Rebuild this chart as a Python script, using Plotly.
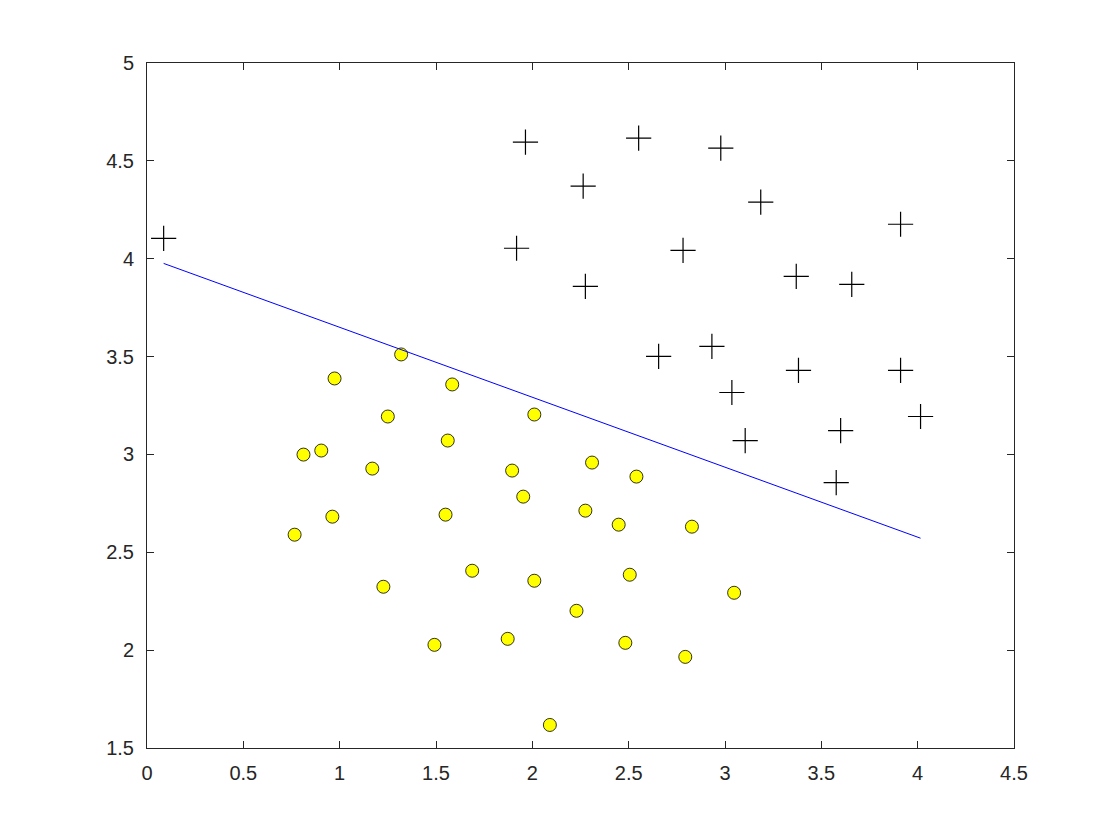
import plotly.graph_objects as go

pos_x = [1.9643, 2.2753, 2.9781, 2.932, 3.5772, 4.015, 3.3814, 3.9113, 2.7822, 2.5518,
         3.3698, 3.1048, 1.9182, 2.2638, 2.6555, 3.1855, 3.6579, 3.9113, 3.6002, 3.0357,
         0.086405]
pos_y = [4.5957, 3.8589, 4.5651, 3.5519, 2.856, 3.1937, 3.4291, 4.1761, 4.0431, 4.6162,
         3.9101, 3.0709, 4.0534, 4.3706, 3.5008, 4.2888, 3.8692, 3.4291, 3.1221, 3.3165,
         4.1035]
neg_x = [1.5841, 2.0103, 1.9527, 2.2753, 2.3099, 2.8283, 3.0473, 2.4827, 2.5057, 1.8721,
         2.0103, 1.2269, 1.8951, 1.561, 1.5495, 1.6878, 1.4919, 0.962, 1.1693, 0.8122,
         0.9735, 1.25, 1.3191, 2.2292, 2.4482, 2.7938, 2.091, 2.5403, 0.9044, 0.76615]
neg_y = [3.3575, 3.2039, 2.7843, 2.7127, 2.9584, 2.6309, 2.2931, 2.0373, 2.3853, 2.0577,
         2.3546, 2.3239, 2.9174, 3.0709, 2.6923, 2.4057, 2.0271, 2.682, 2.9276, 2.9992,
         3.3881, 3.1937, 3.5109, 2.201, 2.6411, 1.9656, 1.6177, 2.8867, 3.0198, 2.5899]
boundary_x = [0.086405, 4.015]
boundary_y = [3.976, 2.572]

x_ticks = [0, 0.5, 1, 1.5, 2, 2.5, 3, 3.5, 4, 4.5]
y_ticks = [1.5, 2, 2.5, 3, 3.5, 4, 4.5, 5]

fig = go.Figure()
fig.add_trace(go.Scatter(x=pos_x, y=pos_y, mode="markers",
                         marker=dict(symbol="cross-thin", size=18, color="black",
                                     line=dict(width=1.2, color="black"))))
fig.add_trace(go.Scatter(x=neg_x, y=neg_y, mode="markers",
                         marker=dict(symbol="circle", size=13, color="#ffff00",
                                     line=dict(width=0.8, color="black"))))
fig.add_trace(go.Scatter(x=boundary_x, y=boundary_y, mode="lines",
                         line=dict(color="#0000ff", width=1)))

axis_common = dict(showgrid=False, zeroline=False, showline=True, mirror="ticks",
                   linecolor="#262626", linewidth=1, ticks="inside", ticklen=7,
                   tickcolor="#262626",
                   tickfont=dict(family="Liberation Sans", size=20, color="#262626"))
fig.update_xaxes(range=[0, 4.5], tickvals=x_ticks, ticktext=[f"{v:g}" for v in x_ticks],
                 ticklabelstandoff=7, **axis_common)
fig.update_yaxes(range=[1.5, 5], tickvals=y_ticks, ticktext=[f"{v:g}" for v in y_ticks],
                 ticklabelstandoff=8, **axis_common)
fig.update_layout(width=1120, height=840, showlegend=False,
                  paper_bgcolor="white", plot_bgcolor="white",
                  margin=dict(l=139, r=114, t=55, b=100, autoexpand=False))
fig.write_html("out.html")
